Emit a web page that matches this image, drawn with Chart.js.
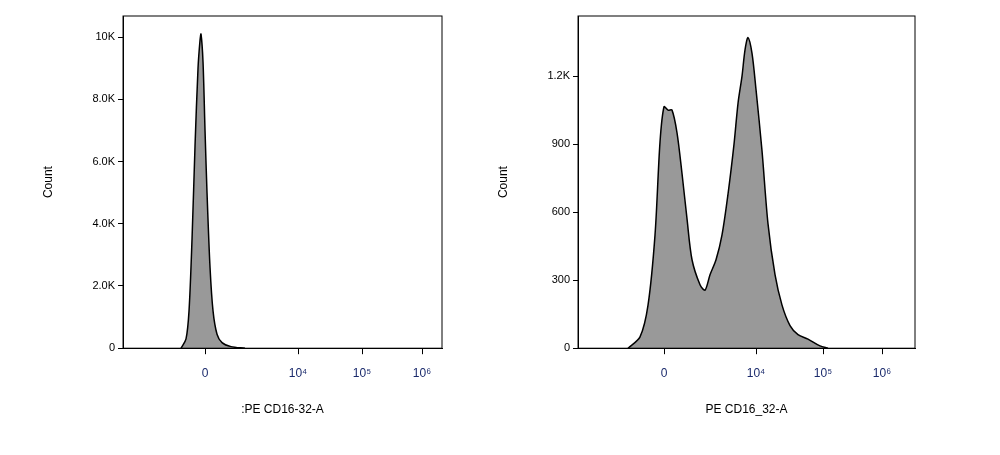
<!DOCTYPE html><html><head><script src="https://cdn.jsdelivr.net/npm/chart.js"></script>
<style>body{margin:0;background:#fff}#a{position:absolute;left:0;top:0;width:460px;height:455px}#b{position:absolute;left:460px;top:0;width:540px;height:455px}</style></head><body>
<div id="a"><canvas id="c1"></canvas></div><div id="b"><canvas id="c2"></canvas></div>
<script>
// x values in display units along the biexponential axis
const leftX=[58,63,66,69,72,75,77,78,80,82,84,87,90,94,99,108,122];
const leftY=[0,300,1200,3500,6500,9000,9900,10100,9200,7000,5000,2600,1200,450,180,50,0];
const rightX=[50,62,70,77,82,86,90,94,99,104,109,114,122,127,132,138,144,150,156,160,164,167,170,174,178,184,190,197,204,212,220,230,242,250];
const rightY=[0,50,190,500,910,1065,1050,1050,950,770,570,390,280,256,324,390,500,680,900,1080,1200,1316,1370,1300,1140,870,548,324,190,100,60,40,10,0];
const tickLabels=['0','10^4','10^5','10^6'];
const leftTicks=[82,175,239,299];
const rightTicks=[86,178,245,304];
const leftYTicks=[0,2000,4000,6000,8000,10000],leftYLabels=['0','2.0K','4.0K','6.0K','8.0K','10K'];
const rightYTicks=[0,300,600,900,1200],rightYLabels=['0','300','600','900','1.2K'];
const sup={'4':'⁴','5':'⁵','6':'⁶'};
function mk(id,xs,ys,xt,ymax,yt,yl,title,xmax,pad){
 new Chart(document.getElementById(id),{type:'line',
 data:{datasets:[{data:xs.map((x,i)=>({x,y:ys[i]})),borderColor:'#000',borderWidth:1.5,backgroundColor:'#999',fill:'origin',pointRadius:0,tension:0.3}]},
 options:{responsive:true,maintainAspectRatio:false,animation:false,layout:{padding:pad},
 plugins:{legend:{display:false},tooltip:{enabled:false}},
 scales:{x:{type:'linear',min:0,max:xmax,afterBuildTicks:s=>{s.ticks=xt.map(v=>({value:v}));},
   ticks:{autoSkip:false,color:'#1a2a6c',font:{family:'Liberation Sans',size:12},padding:12,callback:(v)=>{const i=xt.indexOf(v);return i<0?'':tickLabels[i].replace(/10\^(\d)/,(m,d)=>'10'+sup[d]);}},
   grid:{display:true,drawOnChartArea:false,color:'#000',tickLength:6},border:{color:'#000'},
   title:{display:true,text:title,color:'#000',font:{family:'Liberation Sans',size:12},padding:{top:10}}},
  y:{min:0,max:ymax,afterBuildTicks:s=>{s.ticks=yt.map(v=>({value:v}));},
   ticks:{color:'#000',font:{family:'Liberation Sans',size:11},callback:v=>yl[yt.indexOf(v)]},
   grid:{drawOnChartArea:false,color:'#000',tickLength:5},border:{color:'#000'},
   title:{display:true,text:'Count',color:'#000',font:{family:'Liberation Sans',size:12},padding:{bottom:34}}}}},
 plugins:[{id:'box',afterDraw(c){const a=c.chartArea,g=c.ctx;g.save();g.strokeStyle='#000';g.lineWidth=1;g.strokeRect(a.left,a.top,a.right-a.left,a.bottom-a.top);g.restore();}}]});
}
mk('c1',leftX,leftY,leftTicks,10680,leftYTicks,leftYLabels,':PE CD16-32-A',319,{top:16,right:18,left:37,bottom:34});
mk('c2',rightX,rightY,rightTicks,1465,rightYTicks,rightYLabels,'PE CD16_32-A',337,{top:16,right:85,left:32,bottom:34});
</script></body></html>
